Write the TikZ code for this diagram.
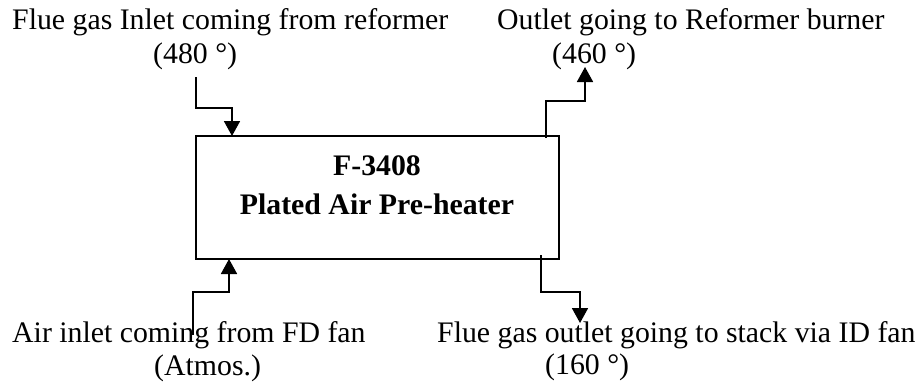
\documentclass[tikz,border=0pt]{standalone}
\usepackage{fontspec}
\setmainfont{Liberation Serif}
\usetikzlibrary{arrows.meta}
\begin{document}
\begin{tikzpicture}[x=1pt,y=-1pt,
  lbl/.style={inner sep=0pt,anchor=base west,font=\fontsize{29.8}{36}\selectfont},
  btxt/.style={inner sep=0pt,anchor=base,font=\fontsize{29.8}{36}\selectfont\bfseries},
  boxst/.style={draw,line width=1.8pt,minimum width=363pt,minimum height=123pt,inner sep=0pt},
  arr/.style={line width=1.8pt,-{Triangle[width=16pt,length=15pt]}}]
\useasboundingbox (0,0) rectangle (923,381);
\fill[white] (0,0) rectangle (923,381);
% box
\node[boxst] (box) at (377.5,197.5) {};
\node[btxt] (t1) at (377,175) {F-3408};
\node[btxt] (t2) at (377,214) {Plated Air Pre-heater};
% labels
\node[lbl] (l1) at (12,29) {Flue gas Inlet coming from reformer};
\node[lbl] (l1b) at (153,63) {(480 °)};
\node[lbl] (l2) at (497,29) {Outlet going to Reformer burner};
\node[lbl] (l2b) at (552,63) {(460 °)};
\node[lbl] (l3) at (12,342) {Air inlet coming from FD fan};
\node[lbl] (l3b) at (154,375) {(Atmos.)};
\node[lbl] (l4) at (437,342) {Flue gas outlet going to stack via ID fan};
\node[lbl] (l4b) at (545,374) {(160 °)};
% connector end points
\coordinate (a0) at (196,77);
\coordinate (a1) at (232,108);
\coordinate (a2) at (232,136);
\coordinate (b0) at (546,138);
\coordinate (b1) at (585,101);
\coordinate (b2) at (585,67);
\coordinate (c0) at (193,335);
\coordinate (c1) at (229,292);
\coordinate (c2) at (229,259);
\coordinate (d0) at (541,255);
\coordinate (d1) at (580,292);
\coordinate (d2) at (580,323);
\draw[arr] (a0) |- (a1) -- (a2);
\draw[arr] (b0) |- (b1) -- (b2);
\draw[arr] (c0) |- (c1) -- (c2);
\draw[arr] (d0) |- (d1) -- (d2);
\end{tikzpicture}
\end{document}
